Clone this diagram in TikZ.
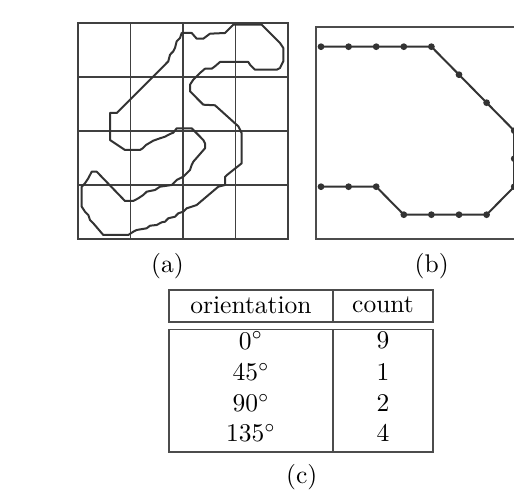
\documentclass[tikz,border=0pt]{standalone}
\usetikzlibrary{calc}
\begin{document}
\begin{tikzpicture}[x=0.4pt,y=-0.4pt,
  gridline/.style={draw=black!75,line width=0.65pt},
  contour/.style={draw=black!80,line width=0.8pt,line join=round},
  chainline/.style={draw=black!80,line width=0.8pt},
  dotnode/.style={circle,fill=black!80,inner sep=0pt,minimum size=2.7pt},
  framebox/.style={draw=black!70,line width=0.65pt},
  lbl/.style={font=\fontsize{10.2}{12}\selectfont,inner sep=0pt,anchor=center}]
\useasboundingbox (0,0) rectangle (514,490);
\clip (0,0) rectangle (514,490);
% ---------- (a) grid ----------
\draw[gridline] (78,23) rectangle (288,239);
\foreach \gx in {130.5,183,235.5} \draw[gridline] (\gx,23) -- (\gx,239);
\foreach \gy in {77,131,185} \draw[gridline] (78,\gy) -- (288,\gy);
% contour
\draw[contour] (181.7,33) -- (191.7,33) -- (196.7,38.7) -- (203.3,38.7) -- (210,33.7) -- (225,33) -- (230,28) -- (233.3,24.7)
 -- (261.7,24.7) -- (280,43) -- (283.3,48) -- (283.3,61.3) -- (280,68) -- (276.7,69.7) -- (255,69.7) -- (250,64.7)
 -- (248.3,62) -- (220,62) -- (215,66.3) -- (211.7,68.7) -- (205,68.7) -- (200,73) -- (196.7,76.3) -- (193.3,79.7)
 -- (190,84.7) -- (190,91.3) -- (203.3,104.7) -- (215,105.3) -- (238.3,126.3) -- (240,129.7) -- (241.7,133.3)
 -- (241.7,163.3) -- (227,175) -- (225,177) -- (225,185) -- (218.3,186.7) -- (196.7,205) -- (191.7,206.7)
 -- (186.7,208.3) -- (183.3,211.7) -- (178.3,213.3) -- (175,216.7) -- (168.3,218.3) -- (165,221.7) -- (161.7,222.3)
 -- (156.7,225) -- (150,225.7) -- (146.7,228.3) -- (136.7,230) -- (133.3,231.7) -- (128.3,235) -- (103.3,235)
 -- (93.3,223.3) -- (90,220) -- (88.3,215) -- (85,211.7) -- (81.7,206.7) -- (81.7,186.7) -- (85,183.3)
 -- (88.3,178.3) -- (90,175) -- (91.7,171.7) -- (96.7,171.7) -- (125,201) -- (133.3,201) -- (138.3,198.3)
 -- (143.3,195) -- (146.7,191.7) -- (155,190) -- (160,186.7) -- (171.7,185) -- (176.7,180) -- (183.3,176.7)
 -- (190,170) -- (191.7,165) -- (193.3,161.7) -- (205,148.3) -- (205,143.3) -- (203.3,140) -- (191.7,128.3)
 -- (176.7,128.3) -- (173.3,132.7) -- (170,134) -- (165,136.7) -- (160,138.3) -- (153.3,140.7) -- (146,145)
 -- (142.7,148.3) -- (140,150) -- (125,150) -- (110,140) -- (110,113) -- (116.7,113) -- (165,64.7)
 -- (168.3,61.3) -- (170,54.7) -- (173.3,51.3) -- (175,48) -- (176.7,41.3) -- (180,38) -- cycle;
\node[lbl] (la) at (167.5,266) {(a)};
% ---------- (b) chain ----------
\draw[framebox] (315.7,27.3) -- (530,27.3) -- (530,239.3) -- (315.7,239.3) -- cycle;
\foreach \i/\cx/\cy in {0/0/0,1/1/0,2/2/0,3/3/0,4/4/0,5/5/1,6/6/2,7/7/3,8/7/4,9/7/5,10/6/6,11/5/6,12/4/6,13/3/6,14/2/5,15/1/5,16/0/5}
  \coordinate (p\i) at ({321+27.6*\cx},{46.7+28*\cy});
\draw[chainline] (p0) \foreach \i in {1,...,16}{ -- (p\i)};
\foreach \i in {0,...,16} \node[dotnode] (d\i) at (p\i) {};
\node[lbl] (lb) at (431.7,266) {(b)};
% ---------- (c) table ----------
\draw[framebox] (169.3,289.7) rectangle (433.3,321.7);
\draw[framebox] (169.3,329.5) rectangle (433.3,452.3);
\draw[framebox] (332.7,289.7) -- (332.7,321.7);
\draw[framebox] (332.7,329.5) -- (332.7,452.3);
\node[lbl] (h1) at (251,305) {orientation};
\node[lbl] (h2) at (383,305) {count};
\node[lbl] (r1a) at (251,340.7) {0$^\circ$};
\node[lbl] (r1b) at (383,340.7) {9};
\node[lbl] (r2a) at (251,372) {45$^\circ$};
\node[lbl] (r2b) at (383,372) {1};
\node[lbl] (r3a) at (251,403) {90$^\circ$};
\node[lbl] (r3b) at (383,403) {2};
\node[lbl] (r4a) at (251,433.3) {135$^\circ$};
\node[lbl] (r4b) at (383,433.3) {4};
\node[lbl] (lc) at (301.7,476.7) {(c)};
\end{tikzpicture}
\end{document}
